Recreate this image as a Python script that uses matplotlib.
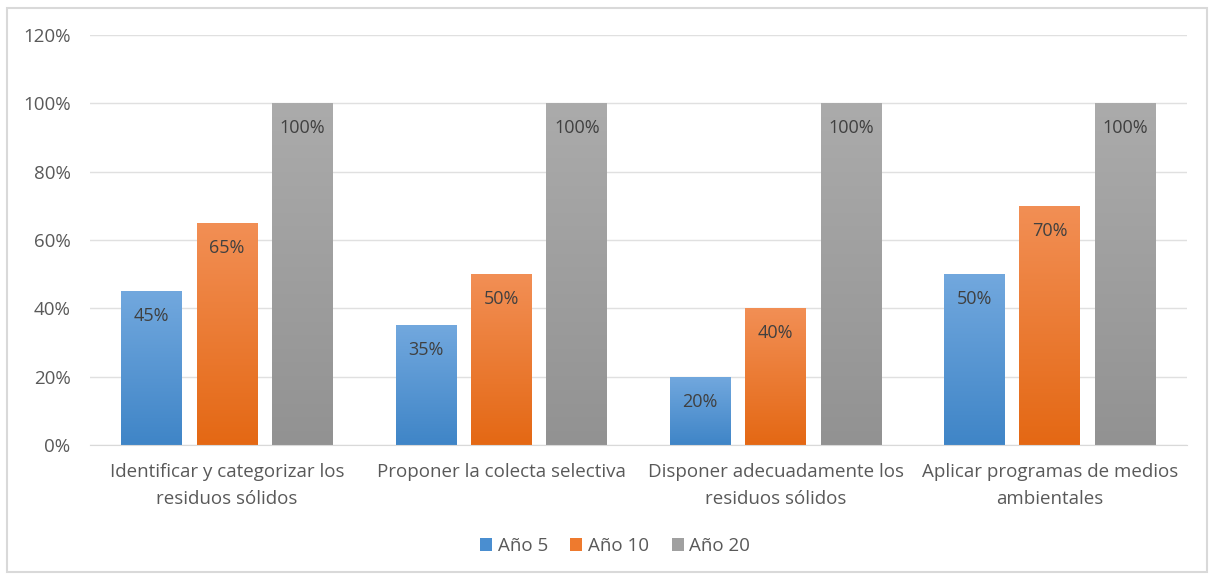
import matplotlib
matplotlib.use('Agg')
import matplotlib.pyplot as plt
from matplotlib.patches import Rectangle, Patch
from matplotlib.colors import LinearSegmentedColormap
import numpy as np

categories = ['Identificar y categorizar los\nresiduos sólidos',
              'Proponer la colecta selectiva',
              'Disponer adecuadamente los\nresiduos sólidos',
              'Aplicar programas de medios\nambientales']
series_names = ['Año 5', 'Año 10', 'Año 20']
ano5 = [45, 35, 20, 50]
ano10 = [65, 50, 40, 70]
ano20 = [100, 100, 100, 100]
yticks = [0, 20, 40, 60, 80, 100, 120]

# gradient top -> bottom per series
grad_colors = [('#72a8de', '#3f85c7'), ('#f28f55', '#e46814'), ('#ababab', '#929292')]
legend_colors = ['#4a8ed0', '#ee7a2e', '#a0a0a0']
text_color = '#595959'

plt.rcParams['font.family'] = ['Open Sans', 'DejaVu Sans']

fig = plt.figure(figsize=(12.11, 5.74), dpi=100)
ax = fig.add_axes([90 / 1211, 1 - 445 / 574, 1097 / 1211, 410 / 574])

x = np.arange(len(categories))
width = 0.222
step = 0.275
values = [ano5, ano10, ano20]

for i, vals in enumerate(values):
    bars = ax.bar(x + (i - 1) * step, vals, width, color='none', edgecolor='none', zorder=2)
    cmap = LinearSegmentedColormap.from_list('g%d' % i, [grad_colors[i][1], grad_colors[i][0]])
    for b, v in zip(bars, vals):
        x0 = b.get_x()
        img = ax.imshow(np.linspace(0, 1, 256).reshape(-1, 1), cmap=cmap, origin='lower',
                        extent=[x0, x0 + b.get_width(), 0, v], aspect='auto', zorder=2)
        img.set_clip_path(b)
        ax.text(x0 + b.get_width() / 2, v - 7.3, '%d%%' % v, ha='center', va='center',
                fontsize=13, color='#404040', zorder=3)

ax.set_aspect('auto')
ax.set_xlim(-0.5, 3.5)
ax.set_ylim(0, 120)

ax.set_yticks(yticks)
ax.set_yticklabels(['%d%%' % t for t in yticks])
ax.yaxis.grid(True, color='#e0e0e0', linewidth=1)
ax.set_axisbelow(True)
ax.set_xticks(x)
ax.set_xticklabels(categories, linespacing=1.65)
ax.tick_params(axis='both', length=0, labelsize=13.5, colors=text_color)
ax.tick_params(axis='y', pad=14)
ax.tick_params(axis='x', pad=13)
for s in ['top', 'right', 'left']:
    ax.spines[s].set_visible(False)
ax.spines['bottom'].set_color('#d9d9d9')

handles = [Patch(facecolor=c) for c in legend_colors]
leg = fig.legend(handles, series_names, loc='center', bbox_to_anchor=(615 / 1211, 1 - 546 / 574),
                 ncol=3, frameon=False, fontsize=13.5, handlelength=0.65, handleheight=0.65,
                 handletextpad=0.3, columnspacing=1.2)
for t in leg.get_texts():
    t.set_color(text_color)

fig.patches.append(Rectangle((7 / 1211, 0.003), 1200 / 1211, 1 - 8 / 574 - 0.003, transform=fig.transFigure,
                             fill=False, edgecolor='#d9d9d9', linewidth=1.5))

fig.savefig('out.png', dpi=100)
